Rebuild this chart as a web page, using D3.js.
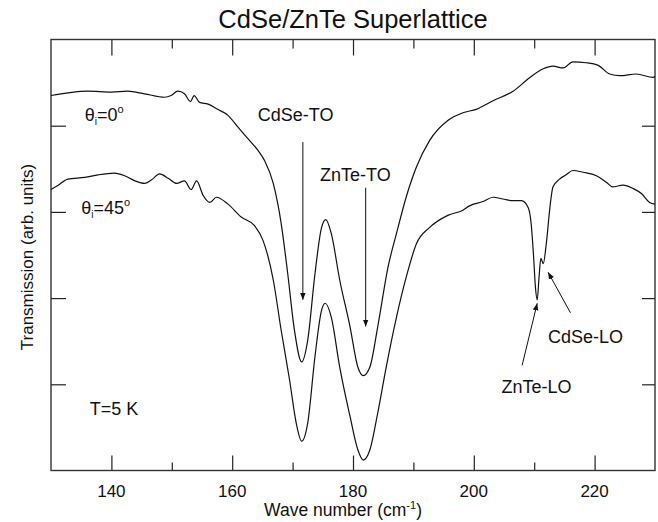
<!DOCTYPE html>
<html>
<head>
<meta charset="utf-8">
<script src="https://cdn.jsdelivr.net/npm/d3@7"></script>
<style>
body{margin:0;background:#fff}
text{font-family:"Liberation Sans",Arial,Helvetica,sans-serif;fill:#111}
</style>
</head>
<body>
<div id="chart"></div>
<script>
// spectra: wave number (cm-1) and transmission (arb. units, 0..5)
var wn0=[130,132.8,136.1,140,142.7,145.5,148.8,149.9,151,152.1,153.1,153.7,154.6,156,157.6,159.3,161,162.6,164.3,165.4,166.8,168.1,169.2,170.3,171.5,172.5,173.7,174.8,175.5,176.4,177.8,179.5,180.8,181.7,182.8,184.1,185.8,187.2,188.8,190.5,192.7,195.7,198.2,200.4,203.2,206.5,209.3,211.5,213.1,214.8,216.4,218.6,220.6,222.5,224.2,226.9,229.7,230]
var tr0=[4.35,4.38,4.40,4.39,4.40,4.37,4.33,4.35,4.40,4.37,4.28,4.35,4.27,4.25,4.19,4.12,3.98,3.85,3.71,3.59,3.33,2.87,2.28,1.63,1.26,1.51,2.28,2.82,2.91,2.75,2.21,1.67,1.20,1.10,1.20,1.67,2.36,2.75,3.17,3.52,3.83,4.06,4.15,4.19,4.29,4.40,4.56,4.66,4.69,4.67,4.74,4.73,4.70,4.60,4.58,4.60,4.56,4.57]
var wn45=[130,131.2,132.8,135.6,137.8,140.5,142.2,143.9,145.5,146.6,148,149.4,150.8,152.1,153.2,154.1,155.2,156.3,157.4,159.3,161.5,163.7,165.1,166.8,168.1,169.5,170.6,171.5,172.5,173.7,174.8,175.4,176.4,177.8,179.5,180.8,181.7,182.8,184.1,185.5,187.2,188.8,190.5,192.7,195.7,198.2,199.3,201.5,203.2,204.8,206.5,207.9,209,209.5,209.9,210.2,210.5,210.8,211.1,211.5,212,212.6,213.1,214.2,215.3,216.4,218.1,220.3,222,223,224.7,226.4,227.8,229.1,230]
var tr45=[3.26,3.31,3.38,3.40,3.43,3.45,3.42,3.36,3.33,3.37,3.44,3.39,3.33,3.36,3.26,3.36,3.19,3.11,3.17,3.09,2.94,2.84,2.67,2.21,1.63,1.05,0.55,0.34,0.55,1.32,1.86,1.94,1.78,1.20,0.63,0.24,0.12,0.24,0.67,1.20,1.78,2.24,2.63,2.82,2.96,3.02,3.07,3.12,3.17,3.15,3.13,3.13,3.05,2.86,2.48,2.13,1.98,2.24,2.46,2.40,2.63,3.05,3.29,3.38,3.43,3.48,3.46,3.42,3.34,3.29,3.31,3.27,3.21,3.11,3.09]

var xMajor=[140,160,180,200,220]
var xMinor=[150,170,190,210]
var yTicks=[1,2,3,4]

// peak labels: text, label position, arrow start, arrow tip
var peakNames=['CdSe-TO','ZnTe-TO','CdSe-LO','ZnTe-LO']
var peakLabelAt=[[170.5,4.06],[180.4,3.36],[218.5,1.48],[210.4,0.90]]
var arrowFrom=[[171.7,3.81],[182.1,3.28],[216.0,1.83],[208.0,1.22]]
var arrowTo=[[171.7,1.98],[182.1,1.67],[212.3,2.30],[210.5,1.94]]

var W=658,H=522
var mL=51,mR=3,mT=39.5,mB=51.5
var w=W-mL-mR, h=H-mT-mB

var svg=d3.select('#chart').append('svg').attr('width',W).attr('height',H)
svg.append('defs').append('marker')
  .attr('id','ah').attr('viewBox','0 0 10 10').attr('refX',10).attr('refY',5)
  .attr('markerWidth',7).attr('markerHeight',7).attr('markerUnits','userSpaceOnUse')
  .attr('orient','auto')
  .append('path').attr('d','M0,1L10,5L0,9Z').attr('fill','#111')

var g=svg.append('g').attr('transform','translate('+mL+','+mT+')')
var x=d3.scaleLinear().domain([130,230]).range([0,w])
var y=d3.scaleLinear().domain([0,5]).range([h,0])

// ticks, all pointing into the frame
var ax=[
  [d3.axisBottom(x),xMajor,15,'translate(0,'+h+')'],
  [d3.axisBottom(x),xMinor,8,'translate(0,'+h+')'],
  [d3.axisTop(x),xMajor,-16,null],
  [d3.axisTop(x),xMinor,-9,null],
  [d3.axisLeft(y),yTicks,15,null],
  [d3.axisRight(y),yTicks,13,'translate('+w+',0)']
]
ax.forEach(function(a){
  var len=a[2]
  var axis=a[0].tickValues(a[1]).tickFormat('').tickSizeOuter(0)
  if(len<0) axis.tickSize(len); else axis.tickSize(-len)
  var s=g.append('g').call(axis)
  if(a[3]) s.attr('transform',a[3])
  s.select('.domain').remove()
  s.selectAll('line').attr('stroke','#222').attr('stroke-width',1.2)
})

g.append('rect').attr('width',w).attr('height',h)
  .attr('fill','none').attr('stroke','#333').attr('stroke-width',1.4)

// tick labels
g.selectAll('.xl').data(xMajor).enter().append('text')
  .attr('x',function(d){return x(d)}).attr('y',h+26)
  .attr('text-anchor','middle').style('font-size','17px').text(function(d){return d})

var line=d3.line().x(function(d){return x(d[0])}).y(function(d){return y(d[1])}).curve(d3.curveMonotoneX)
g.append('path').datum(d3.zip(wn0,tr0)).attr('d',line)
  .attr('fill','none').attr('stroke','#111').attr('stroke-width',1.2)
g.append('path').datum(d3.zip(wn45,tr45)).attr('d',line)
  .attr('fill','none').attr('stroke','#111').attr('stroke-width',1.2)

// arrows
peakNames.forEach(function(n,i){
  g.append('line')
    .attr('x1',x(arrowFrom[i][0])).attr('y1',y(arrowFrom[i][1]))
    .attr('x2',x(arrowTo[i][0])).attr('y2',y(arrowTo[i][1]))
    .attr('stroke','#111').attr('stroke-width',1).attr('marker-end','url(#ah)')
  g.append('text').attr('x',x(peakLabelAt[i][0])).attr('y',y(peakLabelAt[i][1]))
    .attr('text-anchor','middle').style('font-size','18px').text(n)
})

// angle labels
function thetaLabel(px,py,deg){
  var t=g.append('text').attr('x',px).attr('y',py).style('font-size','18px')
  t.append('tspan').text('\u03b8')
  t.append('tspan').attr('dy',4).style('font-size','10px').text('i')
  t.append('tspan').attr('dy',-4).text('='+deg)
  t.append('tspan').attr('dy',-8).style('font-size','11px').text('o')
}
thetaLabel(x(135.6),y(4.05),'0')
thetaLabel(x(135.0),y(2.98),'45')

g.append('text').attr('x',x(136.4)).attr('y',y(0.64)).style('font-size','18px').text('T=5 K')

// titles
svg.append('text').attr('x',mL+w/2).attr('y',28).attr('text-anchor','middle')
  .style('font-size','25.5px').text('CdSe/ZnTe Superlattice')
var xt=svg.append('text').attr('x',343).attr('y',516).attr('text-anchor','middle').style('font-size','17.5px')
xt.append('tspan').text('Wave number (cm')
xt.append('tspan').attr('dy',-7).style('font-size','11px').text('-1')
xt.append('tspan').attr('dy',7).text(')')
svg.append('text').attr('transform','translate(33,257) rotate(-90)')
  .attr('text-anchor','middle').style('font-size','17px').text('Transmission (arb. units)')
</script>
</body>
</html>
